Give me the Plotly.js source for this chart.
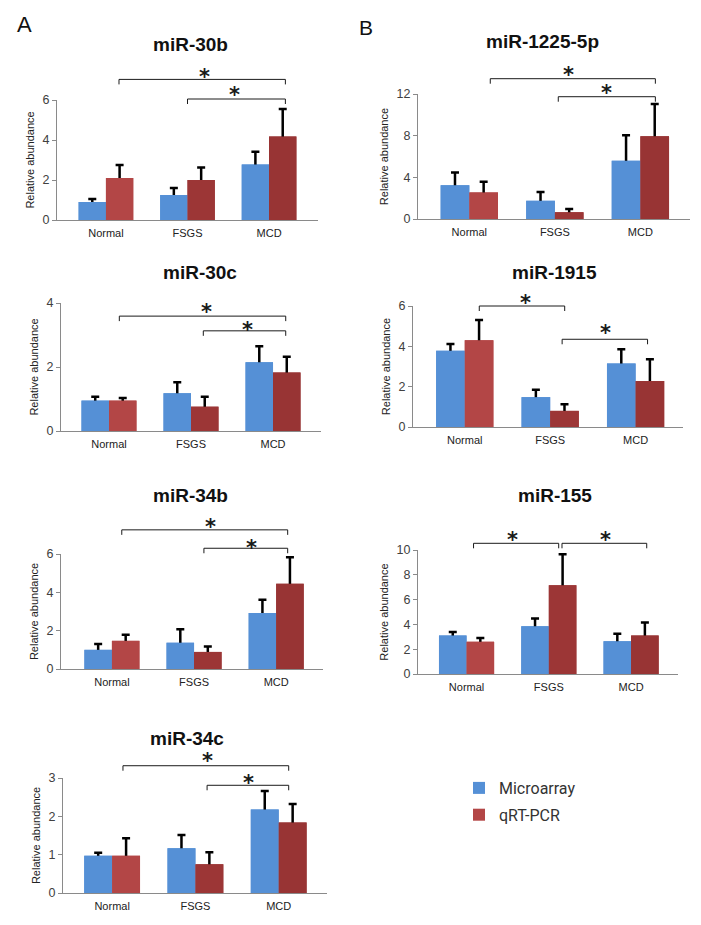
<!DOCTYPE html>
<html><head><meta charset="utf-8">
<script src="https://cdn.plot.ly/plotly-3.0.1.min.js"></script>
<style>body{margin:0;background:#fff}#chart{width:701px;height:925px}</style>
</head><body><div id="chart"></div>
<script>
// ---------- DATA ----------
const groups = ['Normal', 'FSGS', 'MCD'];
const seriesNames = ['Microarray', 'qRT-PCR'];

const mir30b_micro = [0.90, 1.25, 2.78];
const mir30b_micro_err = [0.15, 0.35, 0.63];
const mir30b_qpcr = [2.10, 2.00, 4.17];
const mir30b_qpcr_err = [0.65, 0.63, 1.38];

const mir1225_micro = [3.25, 1.75, 5.60];
const mir1225_micro_err = [1.22, 0.85, 2.45];
const mir1225_qpcr = [2.55, 0.65, 7.95];
const mir1225_qpcr_err = [1.02, 0.30, 3.10];

const mir30c_micro = [0.95, 1.18, 2.15];
const mir30c_micro_err = [0.12, 0.34, 0.50];
const mir30c_qpcr = [0.95, 0.76, 1.83];
const mir30c_qpcr_err = [0.08, 0.31, 0.49];

const mir1915_micro = [3.78, 1.48, 3.15];
const mir1915_micro_err = [0.34, 0.37, 0.71];
const mir1915_qpcr = [4.30, 0.80, 2.28];
const mir1915_qpcr_err = [1.00, 0.33, 1.08];

const mir34b_micro = [1.00, 1.37, 2.92];
const mir34b_micro_err = [0.30, 0.71, 0.69];
const mir34b_qpcr = [1.47, 0.89, 4.45];
const mir34b_qpcr_err = [0.32, 0.29, 1.38];

const mir155_micro = [3.10, 3.85, 2.65];
const mir155_micro_err = [0.28, 0.62, 0.60];
const mir155_qpcr = [2.60, 7.15, 3.10];
const mir155_qpcr_err = [0.30, 2.50, 1.05];

const mir34c_micro = [0.97, 1.17, 2.18];
const mir34c_micro_err = [0.08, 0.34, 0.48];
const mir34c_qpcr = [0.97, 0.75, 1.84];
const mir34c_qpcr_err = [0.46, 0.31, 0.48];

const yTicks30b = [0, 2, 4, 6];
const yTicks1225 = [0, 4, 8, 12];
const yTicks30c = [0, 2, 4];
const yTicks1915 = [0, 2, 4, 6];
const yTicks34b = [0, 2, 4, 6];
const yTicks155 = [0, 2, 4, 6, 8, 10];
const yTicks34c = [0, 1, 2, 3];

// ---------- LAYOUT / STYLE ----------
const W = 701, H = 925;
const BLUE = '#5590D6';
const REDS = ['#B34646', '#9C3636', '#983434'];
const BARW = 0.335;

// pixel boxes [left, right, top, bottom], x range, y max, significance bracket placement
const panels = [
  {name: 'miR-30b', micro: mir30b_micro, microErr: mir30b_micro_err, qpcr: mir30b_qpcr, qpcrErr: mir30b_qpcr_err,
   ticks: yTicks30b, box: [57, 318, 100, 220], xr: [-0.6, 2.6], ymax: 6,
   br: [{x0: 0.16, x1: 2.2, y: 7.03, sx: 1.21, sy: 7.4}, {x0: 1.0, x1: 2.2, y: 6.05, sx: 1.58, sy: 6.5}],
   title: [190, 45]},
  {name: 'miR-1225-5p', micro: mir1225_micro, microErr: mir1225_micro_err, qpcr: mir1225_qpcr, qpcrErr: mir1225_qpcr_err,
   ticks: yTicks1225, box: [418, 690, 94, 219], xr: [-0.6, 2.58], ymax: 12,
   br: [{x0: 0.245, x1: 2.175, y: 13.47, sx: 1.16, sy: 14.3}, {x0: 1.04, x1: 2.175, y: 11.74, sx: 1.6, sy: 12.57}],
   title: [542, 42]},
  {name: 'miR-30c', micro: mir30c_micro, microErr: mir30c_micro_err, qpcr: mir30c_qpcr, qpcrErr: mir30c_qpcr_err,
   ticks: yTicks30c, box: [61, 321, 303, 431], xr: [-0.585, 2.585], ymax: 4,
   br: [{x0: 0.126, x1: 2.155, y: 3.59, sx: 1.19, sy: 3.88}, {x0: 1.15, x1: 2.155, y: 3.13, sx: 1.69, sy: 3.31}],
   title: [200, 272]},
  {name: 'miR-1915', micro: mir1915_micro, microErr: mir1915_micro_err, qpcr: mir1915_qpcr, qpcrErr: mir1915_qpcr_err,
   ticks: yTicks1915, box: [413, 683, 306, 427], xr: [-0.606, 2.555], ymax: 6,
   br: [{x0: 0.17, x1: 1.17, y: 6.0, sx: 0.71, sy: 6.39}, {x0: 1.14, x1: 2.14, y: 4.35, sx: 1.65, sy: 4.9}],
   title: [554, 272]},
  {name: 'miR-34b', micro: mir34b_micro, microErr: mir34b_micro_err, qpcr: mir34b_qpcr, qpcrErr: mir34b_qpcr_err,
   ticks: yTicks34b, box: [61, 323, 554, 669], xr: [-0.62, 2.57], ymax: 6,
   br: [{x0: 0.12, x1: 2.14, y: 7.26, sx: 1.2, sy: 7.69}, {x0: 1.12, x1: 2.14, y: 6.3, sx: 1.7, sy: 6.56}],
   title: [191, 495]},
  {name: 'miR-155', micro: mir155_micro, microErr: mir155_micro_err, qpcr: mir155_qpcr, qpcrErr: mir155_qpcr_err,
   ticks: yTicks155, box: [418, 678, 550, 674], xr: [-0.59, 2.57], ymax: 10,
   br: [{x0: 0.085, x1: 1.12, y: 10.54, sx: 0.555, sy: 11.2}, {x0: 1.16, x1: 2.19, y: 10.54, sx: 1.69, sy: 11.2}],
   title: [555, 496]},
  {name: 'miR-34c', micro: mir34c_micro, microErr: mir34c_micro_err, qpcr: mir34c_qpcr, qpcrErr: mir34c_qpcr_err,
   ticks: yTicks34c, box: [63, 327, 778, 893], xr: [-0.59, 2.58], ymax: 3,
   br: [{x0: 0.13, x1: 2.12, y: 3.32, sx: 1.14, sy: 3.57}, {x0: 1.14, x1: 2.12, y: 2.81, sx: 1.64, sy: 3.01}],
   title: [187, 738]}
];

const FONT = 'Liberation Sans, Arial, sans-serif';
const traces = [];
const overlays = [];
const layout = {
  width: W, height: H,
  margin: {l: 0, r: 0, t: 0, b: 0},
  paper_bgcolor: '#ffffff', plot_bgcolor: '#ffffff',
  barmode: 'overlay',
  font: {family: FONT, color: '#222'},
  showlegend: true,
  legend: {x: 459 / W, y: 1 - 771 / H, xanchor: 'left', yanchor: 'top',
           font: {family: 'Roboto, Liberation Sans, sans-serif', size: 16, color: '#333'},
           bgcolor: 'rgba(0,0,0,0)', tracegroupgap: 3, itemwidth: 30},
  shapes: [], annotations: []
};

const xIdx = groups.map((g, i) => i);

panels.forEach((p, k) => {
  const n = k + 1;
  const xa = 'x' + (n === 1 ? '' : n), ya = 'y' + (n === 1 ? '' : n);
  const xKey = 'xaxis' + (n === 1 ? '' : n), yKey = 'yaxis' + (n === 1 ? '' : n);
  const [l, r, t, b] = p.box;
  const series = [
    {name: seriesNames[0], y: p.micro, err: p.microErr, color: BLUE, offset: -BARW, grp: 'm'},
    {name: seriesNames[1], y: p.qpcr, err: p.qpcrErr, color: REDS, offset: 0, grp: 'q'}
  ];
  series.forEach(s => {
    // bars carrying the (plus-direction) error bars
    traces.push({
      type: 'bar', name: s.name, x: xIdx, y: s.y, xaxis: xa, yaxis: ya,
      width: BARW, offset: s.offset,
      marker: {color: s.color, line: {width: 0}}, legendgroup: s.grp, showlegend: k === 0,
      error_y: {type: 'data', array: s.err, symmetric: true, color: '#000', thickness: 2.5, width: 4}
    });
    // same bars drawn again on top so that only the upper half of each error bar shows
    overlays.push({
      type: 'bar', name: s.name, x: xIdx, y: s.y, xaxis: xa, yaxis: ya,
      width: BARW, offset: s.offset, hoverinfo: 'skip',
      marker: {color: s.color, line: {width: 0}}, legendgroup: s.grp, showlegend: false
    });
  });
  layout[xKey] = {
    domain: [l / W, r / W], anchor: ya, range: p.xr, fixedrange: true,
    tickvals: xIdx, ticktext: groups, ticks: '', ticklabelstandoff: 3,
    showline: true, linecolor: '#8a8a8a', linewidth: 1, showgrid: false, zeroline: false,
    tickfont: {family: FONT, size: 11, color: '#222'}
  };
  layout[yKey] = {
    domain: [1 - b / H, 1 - t / H], anchor: xa, range: [0, p.ymax], fixedrange: true,
    tickvals: p.ticks, ticks: 'outside', ticklen: 4, tickcolor: '#8a8a8a', tickwidth: 1,
    showline: true, linecolor: '#8a8a8a', linewidth: 1, showgrid: false, zeroline: false,
    tickfont: {family: FONT, size: 12.5, color: '#404040'},
    title: {text: 'Relative abundance', font: {family: FONT, size: 11, color: '#222'}, standoff: 5}
  };
  // subplot title
  layout.annotations.push({
    xref: 'paper', yref: 'paper', x: p.title[0] / W, y: 1 - p.title[1] / H,
    xanchor: 'center', yanchor: 'middle', showarrow: false, text: '<b>' + p.name + '</b>',
    font: {family: FONT, size: 19, color: '#111'}
  });
  // significance brackets
  const drop = 5 / (b - t);
  p.br.forEach(br => {
    const yd = br.y / p.ymax;
    const lineStyle = {color: '#1a1a1a', width: 1};
    const yr = ya + ' domain';
    layout.shapes.push({type: 'line', xref: xa, yref: yr, x0: br.x0, x1: br.x1, y0: yd, y1: yd, line: lineStyle});
    layout.shapes.push({type: 'line', xref: xa, yref: yr, x0: br.x0, x1: br.x0, y0: yd, y1: yd - drop, line: lineStyle});
    layout.shapes.push({type: 'line', xref: xa, yref: yr, x0: br.x1, x1: br.x1, y0: yd, y1: yd - drop, line: lineStyle});
    layout.annotations.push({
      xref: xa, yref: yr, x: br.sx, y: br.sy / p.ymax, xanchor: 'center', yanchor: 'middle',
      showarrow: false, text: '<b>*</b>', yshift: -5,
      font: {family: 'DejaVu Sans, sans-serif', size: 21, color: '#1a1a1a'}
    });
  });
});

// panel letters
layout.annotations.push({xref: 'paper', yref: 'paper', x: 24 / W, y: 1 - 25 / H, xanchor: 'center', yanchor: 'middle',
  showarrow: false, text: 'A', font: {family: FONT, size: 22, color: '#111'}});
layout.annotations.push({xref: 'paper', yref: 'paper', x: 366 / W, y: 1 - 27 / H, xanchor: 'center', yanchor: 'middle',
  showarrow: false, text: 'B', font: {family: FONT, size: 21, color: '#111'}});

Plotly.newPlot('chart', traces.concat(overlays), layout, {staticPlot: true, displayModeBar: false});
</script>
</body></html>
